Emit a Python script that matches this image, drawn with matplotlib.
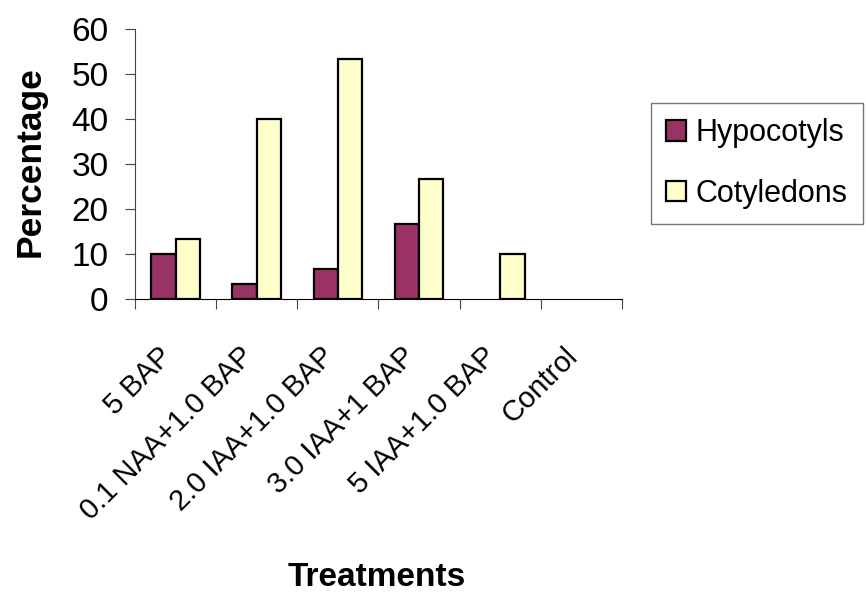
import matplotlib.pyplot as plt
import matplotlib.transforms as mtransforms
import numpy as np

plt.rcParams['font.family'] = ['Liberation Sans', 'DejaVu Sans']

treatments = ['5 BAP', '0.1 NAA+1.0 BAP', '2.0 IAA+1.0 BAP', '3.0 IAA+1 BAP',
              '5 IAA+1.0 BAP', 'Control']
hypocotyls = [10, 3.3, 6.7, 16.7, 0, 0]
cotyledons = [13.3, 40, 53.3, 26.7, 10, 0]

fig = plt.figure(figsize=(8.66, 5.99), dpi=100)
ax = fig.add_axes([135 / 866, 0.501, 487 / 866, 270 / 599])

x = np.arange(len(treatments))
w = 0.3
# no outline for empty bars, they would sit on the axis
lw_h = [1.6 if v > 0 else 0 for v in hypocotyls]
lw_c = [1.6 if v > 0 else 0 for v in cotyledons]
ax.bar(x - w / 2, hypocotyls, w, color='#993366', edgecolor='black', linewidth=lw_h,
       label='Hypocotyls')
ax.bar(x + w / 2, cotyledons, w, color='#FFFFCC', edgecolor='black', linewidth=lw_c,
       label='Cotyledons')

ax.set_xlim(-0.5, len(treatments) - 0.5)
ax.set_ylim(0, 60)
ax.set_yticks(range(0, 61, 10))
ax.set_xticks(np.arange(len(treatments) + 1) - 0.5)
ax.set_xticklabels([])
ax.tick_params(axis='x', length=7, direction='out', color='#444444')
ax.tick_params(axis='y', length=7, color='#444444', labelsize=24, pad=12)

# rotated category labels, Excel style
off = mtransforms.ScaledTranslation(-18 / 100, 0, fig.dpi_scale_trans)
trans = mtransforms.blended_transform_factory(ax.transData, fig.transFigure) + off
for xi, lab in zip(x, treatments):
    ax.text(xi, 1 - 342 / 599, lab, transform=trans, rotation=45, ha='right',
            va='top', rotation_mode='anchor', fontsize=21)

for s in ['top', 'right']:
    ax.spines[s].set_visible(False)
ax.spines['left'].set_color('#444444')
ax.spines['bottom'].set_color('black')

fig.text(30 / 866, 1 - 162 / 599, 'Percentage', fontsize=25.5, fontweight='bold',
         rotation=90, ha='center', va='center')
fig.text(377 / 866, 1 - 578 / 599, 'Treatments', fontsize=24, fontweight='bold',
         ha='center', va='center')

leg = ax.legend(loc='upper left', bbox_to_anchor=(651 / 866, 1 - 103 / 599),
                bbox_transform=fig.transFigure, borderaxespad=0, fontsize=22,
                frameon=True, fancybox=False, edgecolor='#555555',
                handlelength=0.65, handleheight=0.65, handletextpad=0.3,
                labelspacing=1.0, borderpad=0.5)
leg.get_frame().set_linewidth(1.0)
for p in leg.get_patches():
    p.set_linewidth(1.6)

fig.savefig('out.png', dpi=100)
